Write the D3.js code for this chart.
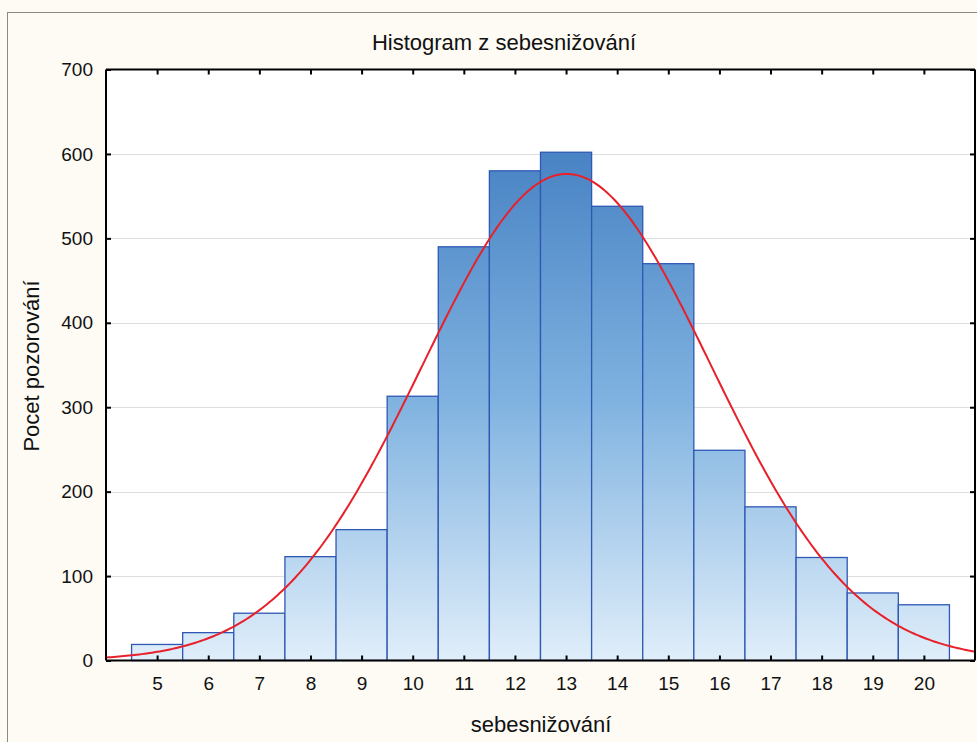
<!DOCTYPE html>
<html><head><meta charset="utf-8">
<script src="https://cdn.jsdelivr.net/npm/d3@7/dist/d3.min.js"></script>
<style>html,body{margin:0;padding:0;background:#fdfbf4;}svg{display:block;}</style>
</head><body>
<script>
const categories = [5,6,7,8,9,10,11,12,13,14,15,16,17,18,19,20];
const counts = [19,33,56,123,155,313,490,580,602,538,470,249,182,122,80,66];
const yTicks = [0,100,200,300,400,500,600,700];
const xTicks = [5,6,7,8,9,10,11,12,13,14,15,16,17,18,19,20];
const title = "Histogram z sebesnižování";
const xLabel = "sebesnižování";
const yLabel = "Pocet pozorování";

const W = 977, H = 742;
const m = {left:106, top:69.5, right:975, bottom:660.5};
const svg = d3.select("body").append("svg").attr("width",W).attr("height",H);
const font = "'Liberation Sans', Arial, sans-serif";

svg.append("rect").attr("x",7.5).attr("y",12.5).attr("width",W).attr("height",H)
  .attr("fill","#fdfbf4").attr("stroke","#8a8a8a").attr("stroke-width",1);

const x = d3.scaleLinear().domain([4,21]).range([m.left,m.right]);
const y = d3.scaleLinear().domain([0,700]).range([m.bottom,m.top]);

svg.append("rect").attr("x",m.left).attr("y",m.top).attr("width",m.right-m.left).attr("height",m.bottom-m.top).attr("fill","#ffffff");

const defs = svg.append("defs");
const g = defs.append("linearGradient").attr("id","barGrad").attr("gradientUnits","userSpaceOnUse")
  .attr("x1",0).attr("x2",0).attr("y1",y(0)).attr("y2",y(620));
g.append("stop").attr("offset","0%").attr("stop-color","#e0eefa");
g.append("stop").attr("offset","50%").attr("stop-color","#7fb2e0");
g.append("stop").attr("offset","100%").attr("stop-color","#4580c2");

// grid
svg.append("g").selectAll("line").data(yTicks.filter(d=>d>0&&d<700)).join("line")
  .attr("x1",m.left).attr("x2",m.right).attr("y1",d=>Math.round(y(d))+0.5).attr("y2",d=>Math.round(y(d))+0.5)
  .attr("stroke","#dedede").attr("stroke-width",1);

// bars
const data = categories.map((c,i)=>({c, v:counts[i]}));
svg.append("g").selectAll("rect").data(data).join("rect")
  .attr("x",d=>x(d.c-0.5)).attr("width",d=>x(d.c+0.5)-x(d.c-0.5))
  .attr("y",d=>y(d.v)).attr("height",d=>y(0)-y(d.v))
  .attr("fill","url(#barGrad)").attr("stroke","#2f58b4").attr("stroke-width",1.3);

// normal fit from the histogram data
const N = d3.sum(counts);
const mean = d3.sum(data, d=>d.c*d.v)/N;
const sd = Math.sqrt(d3.sum(data, d=>d.v*(d.c-mean)**2)/N);
const curvePts = d3.range(4,21.001,0.05).map(t=>[t, N/(sd*Math.sqrt(2*Math.PI))*Math.exp(-0.5*((t-mean)/sd)**2)]);
svg.append("path").datum(curvePts)
  .attr("d", d3.line().x(d=>x(d[0])).y(d=>y(d[1])))
  .attr("fill","none").attr("stroke","#e8202a").attr("stroke-width",2);

// axes
const axB = d3.axisBottom(x).tickValues(xTicks).tickSize(-5).tickPadding(16).tickFormat(d3.format("d"));
const axT = d3.axisTop(x).tickValues(xTicks).tickSize(-5).tickFormat("");
const axL = d3.axisLeft(y).tickValues(yTicks).tickSize(-5).tickPadding(13);
const axR = d3.axisRight(y).tickValues(yTicks).tickSize(-5).tickFormat("");
function style(sel){
  sel.select(".domain").attr("stroke","#000").attr("stroke-width",2);
  sel.selectAll(".tick line").attr("stroke","#000").attr("stroke-width",2);
  sel.selectAll(".tick text").attr("font-family",font).attr("font-size",19).attr("fill","#111");
}
svg.append("g").attr("transform",`translate(0,${m.bottom})`).call(axB).call(style).call(s=>s.select(".domain").attr("d",`M${m.left},0H${m.right}`));
svg.append("g").attr("transform",`translate(0,${m.top})`).call(axT).call(style).call(s=>s.select(".domain").attr("d",`M${m.left},0H${m.right}`));
svg.append("g").attr("transform",`translate(${m.left},0)`).call(axL).call(style).call(s=>s.select(".domain").attr("d",`M0,${m.top}V${m.bottom}`));
svg.append("g").attr("transform",`translate(${m.right},0)`).call(axR).call(style).call(s=>s.select(".domain").attr("d",`M0,${m.top}V${m.bottom}`));

svg.append("text").attr("x",504).attr("y",50).attr("text-anchor","middle")
  .attr("font-family",font).attr("font-size",22).attr("fill","#111").text(title);
svg.append("text").attr("x",541).attr("y",732).attr("text-anchor","middle")
  .attr("font-family",font).attr("font-size",22).attr("fill","#111").text(xLabel);
svg.append("text").attr("transform","translate(39,366) rotate(-90)").attr("text-anchor","middle")
  .attr("font-family",font).attr("font-size",22).attr("fill","#111").text(yLabel);
</script>
</body></html>
